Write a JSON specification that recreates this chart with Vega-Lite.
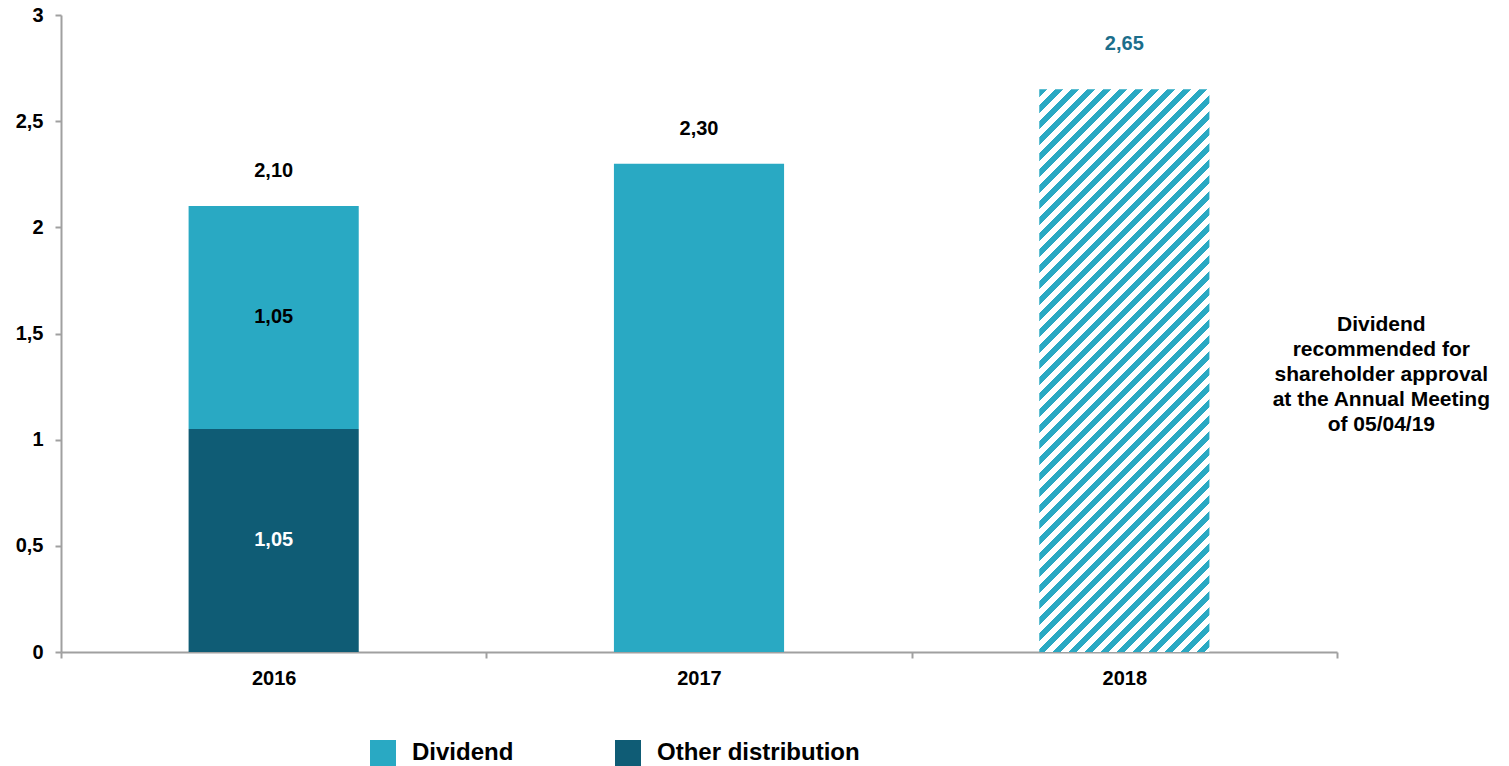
{
  "$schema": "https://vega.github.io/schema/vega-lite/v6.json",
  "width": 1276,
  "height": 637,
  "autosize": {"type": "none"},
  "padding": {"left": 61, "top": 15, "right": 172, "bottom": 114},
  "config": {
    "locale": {"number": {"decimal": ",", "thousands": ".", "grouping": [3], "currency": ["", " €"]}},
    "view": {"stroke": null},
    "font": "Liberation Sans",
    "text": {"font": "Liberation Sans"}
  },
  "data": {
    "values": [
      {"year": "2016", "series": "Other distribution", "status": "paid", "value": 1.05},
      {"year": "2016", "series": "Dividend", "status": "paid", "value": 1.05},
      {"year": "2017", "series": "Dividend", "status": "paid", "value": 2.30},
      {"year": "2018", "series": "Dividend", "status": "recommended", "value": 2.65}
    ]
  },
  "layer": [
    {
      "transform": [{"filter": "datum.status === 'paid'"}],
      "mark": {"type": "bar", "width": {"band": 0.4}},
      "encoding": {
        "x": {
          "field": "year", "type": "ordinal", "title": null,
          "scale": {"domain": ["2016", "2017", "2018"], "paddingInner": 0, "paddingOuter": 0},
          "axis": {"labelAngle": 0, "labelFontSize": 20, "labelFontWeight": "bold", "labelColor": "#000000", "labelFont": "Liberation Sans",
                   "domainColor": "#A0A0A0", "domainWidth": 2, "tickColor": "#A0A0A0", "tickWidth": 2, "tickSize": 6,
                   "tickBand": "extent", "labelPadding": 10, "grid": false}
        },
        "y": {
          "field": "value", "type": "quantitative", "stack": "zero", "title": null,
          "scale": {"domain": [0, 3], "nice": false},
          "axis": {"values": [0, 0.5, 1, 1.5, 2, 2.5, 3], "format": "~g", "labelFontSize": 20, "labelFontWeight": "bold", "labelColor": "#000000", "labelFont": "Liberation Sans",
                   "domainColor": "#A0A0A0", "domainWidth": 2, "tickColor": "#A0A0A0", "tickWidth": 2, "tickSize": 6, "labelPadding": 12, "grid": false}
        },
        "color": {
          "field": "series", "type": "nominal",
          "scale": {"domain": ["Dividend", "Other distribution"], "range": ["#29A9C3", "#0F5C75"]},
          "legend": {"orient": "none", "legendX": 309, "legendY": 725, "direction": "horizontal", "title": null,
                     "symbolType": "square", "symbolSize": 676, "symbolStrokeWidth": 0, "labelFontSize": 24, "labelFontWeight": "bold",
                     "labelColor": "#000000", "labelFont": "Liberation Sans", "labelOffset": 16, "labelLimit": 0, "columnPadding": 0, "gridAlign": "all"}
        },
        "order": {"field": "series", "sort": "descending"}
      }
    },
    {
      "transform": [{"filter": "datum.status === 'recommended'"}],
      "mark": {
        "type": "bar", "width": {"band": 0.4},
        "fill": {
          "gradient": "linear", "x1": 0, "y1": 0, "x2": 0.3934, "y2": 1.3025,
          "stops": [
            {"offset": 0.00, "color": "#29A9C3"}, {"offset": 0.01, "color": "#29A9C3"}, {"offset": 0.01, "color": "#ffffff"}, {"offset": 0.02, "color": "#ffffff"},
            {"offset": 0.02, "color": "#29A9C3"}, {"offset": 0.03, "color": "#29A9C3"}, {"offset": 0.03, "color": "#ffffff"}, {"offset": 0.04, "color": "#ffffff"},
            {"offset": 0.04, "color": "#29A9C3"}, {"offset": 0.05, "color": "#29A9C3"}, {"offset": 0.05, "color": "#ffffff"}, {"offset": 0.06, "color": "#ffffff"},
            {"offset": 0.06, "color": "#29A9C3"}, {"offset": 0.07, "color": "#29A9C3"}, {"offset": 0.07, "color": "#ffffff"}, {"offset": 0.08, "color": "#ffffff"},
            {"offset": 0.08, "color": "#29A9C3"}, {"offset": 0.09, "color": "#29A9C3"}, {"offset": 0.09, "color": "#ffffff"}, {"offset": 0.10, "color": "#ffffff"},
            {"offset": 0.10, "color": "#29A9C3"}, {"offset": 0.11, "color": "#29A9C3"}, {"offset": 0.11, "color": "#ffffff"}, {"offset": 0.12, "color": "#ffffff"},
            {"offset": 0.12, "color": "#29A9C3"}, {"offset": 0.13, "color": "#29A9C3"}, {"offset": 0.13, "color": "#ffffff"}, {"offset": 0.14, "color": "#ffffff"},
            {"offset": 0.14, "color": "#29A9C3"}, {"offset": 0.15, "color": "#29A9C3"}, {"offset": 0.15, "color": "#ffffff"}, {"offset": 0.16, "color": "#ffffff"},
            {"offset": 0.16, "color": "#29A9C3"}, {"offset": 0.17, "color": "#29A9C3"}, {"offset": 0.17, "color": "#ffffff"}, {"offset": 0.18, "color": "#ffffff"},
            {"offset": 0.18, "color": "#29A9C3"}, {"offset": 0.19, "color": "#29A9C3"}, {"offset": 0.19, "color": "#ffffff"}, {"offset": 0.20, "color": "#ffffff"},
            {"offset": 0.20, "color": "#29A9C3"}, {"offset": 0.21, "color": "#29A9C3"}, {"offset": 0.21, "color": "#ffffff"}, {"offset": 0.22, "color": "#ffffff"},
            {"offset": 0.22, "color": "#29A9C3"}, {"offset": 0.23, "color": "#29A9C3"}, {"offset": 0.23, "color": "#ffffff"}, {"offset": 0.24, "color": "#ffffff"},
            {"offset": 0.24, "color": "#29A9C3"}, {"offset": 0.25, "color": "#29A9C3"}, {"offset": 0.25, "color": "#ffffff"}, {"offset": 0.26, "color": "#ffffff"},
            {"offset": 0.26, "color": "#29A9C3"}, {"offset": 0.27, "color": "#29A9C3"}, {"offset": 0.27, "color": "#ffffff"}, {"offset": 0.28, "color": "#ffffff"},
            {"offset": 0.28, "color": "#29A9C3"}, {"offset": 0.29, "color": "#29A9C3"}, {"offset": 0.29, "color": "#ffffff"}, {"offset": 0.30, "color": "#ffffff"},
            {"offset": 0.30, "color": "#29A9C3"}, {"offset": 0.31, "color": "#29A9C3"}, {"offset": 0.31, "color": "#ffffff"}, {"offset": 0.32, "color": "#ffffff"},
            {"offset": 0.32, "color": "#29A9C3"}, {"offset": 0.33, "color": "#29A9C3"}, {"offset": 0.33, "color": "#ffffff"}, {"offset": 0.34, "color": "#ffffff"},
            {"offset": 0.34, "color": "#29A9C3"}, {"offset": 0.35, "color": "#29A9C3"}, {"offset": 0.35, "color": "#ffffff"}, {"offset": 0.36, "color": "#ffffff"},
            {"offset": 0.36, "color": "#29A9C3"}, {"offset": 0.37, "color": "#29A9C3"}, {"offset": 0.37, "color": "#ffffff"}, {"offset": 0.38, "color": "#ffffff"},
            {"offset": 0.38, "color": "#29A9C3"}, {"offset": 0.39, "color": "#29A9C3"}, {"offset": 0.39, "color": "#ffffff"}, {"offset": 0.40, "color": "#ffffff"},
            {"offset": 0.40, "color": "#29A9C3"}, {"offset": 0.41, "color": "#29A9C3"}, {"offset": 0.41, "color": "#ffffff"}, {"offset": 0.42, "color": "#ffffff"},
            {"offset": 0.42, "color": "#29A9C3"}, {"offset": 0.43, "color": "#29A9C3"}, {"offset": 0.43, "color": "#ffffff"}, {"offset": 0.44, "color": "#ffffff"},
            {"offset": 0.44, "color": "#29A9C3"}, {"offset": 0.45, "color": "#29A9C3"}, {"offset": 0.45, "color": "#ffffff"}, {"offset": 0.46, "color": "#ffffff"},
            {"offset": 0.46, "color": "#29A9C3"}, {"offset": 0.47, "color": "#29A9C3"}, {"offset": 0.47, "color": "#ffffff"}, {"offset": 0.48, "color": "#ffffff"},
            {"offset": 0.48, "color": "#29A9C3"}, {"offset": 0.49, "color": "#29A9C3"}, {"offset": 0.49, "color": "#ffffff"}, {"offset": 0.50, "color": "#ffffff"},
            {"offset": 0.50, "color": "#29A9C3"}, {"offset": 0.51, "color": "#29A9C3"}, {"offset": 0.51, "color": "#ffffff"}, {"offset": 0.52, "color": "#ffffff"},
            {"offset": 0.52, "color": "#29A9C3"}, {"offset": 0.53, "color": "#29A9C3"}, {"offset": 0.53, "color": "#ffffff"}, {"offset": 0.54, "color": "#ffffff"},
            {"offset": 0.54, "color": "#29A9C3"}, {"offset": 0.55, "color": "#29A9C3"}, {"offset": 0.55, "color": "#ffffff"}, {"offset": 0.56, "color": "#ffffff"},
            {"offset": 0.56, "color": "#29A9C3"}, {"offset": 0.57, "color": "#29A9C3"}, {"offset": 0.57, "color": "#ffffff"}, {"offset": 0.58, "color": "#ffffff"},
            {"offset": 0.58, "color": "#29A9C3"}, {"offset": 0.59, "color": "#29A9C3"}, {"offset": 0.59, "color": "#ffffff"}, {"offset": 0.60, "color": "#ffffff"},
            {"offset": 0.60, "color": "#29A9C3"}, {"offset": 0.61, "color": "#29A9C3"}, {"offset": 0.61, "color": "#ffffff"}, {"offset": 0.62, "color": "#ffffff"},
            {"offset": 0.62, "color": "#29A9C3"}, {"offset": 0.63, "color": "#29A9C3"}, {"offset": 0.63, "color": "#ffffff"}, {"offset": 0.64, "color": "#ffffff"},
            {"offset": 0.64, "color": "#29A9C3"}, {"offset": 0.65, "color": "#29A9C3"}, {"offset": 0.65, "color": "#ffffff"}, {"offset": 0.66, "color": "#ffffff"},
            {"offset": 0.66, "color": "#29A9C3"}, {"offset": 0.67, "color": "#29A9C3"}, {"offset": 0.67, "color": "#ffffff"}, {"offset": 0.68, "color": "#ffffff"},
            {"offset": 0.68, "color": "#29A9C3"}, {"offset": 0.69, "color": "#29A9C3"}, {"offset": 0.69, "color": "#ffffff"}, {"offset": 0.70, "color": "#ffffff"},
            {"offset": 0.70, "color": "#29A9C3"}, {"offset": 0.71, "color": "#29A9C3"}, {"offset": 0.71, "color": "#ffffff"}, {"offset": 0.72, "color": "#ffffff"},
            {"offset": 0.72, "color": "#29A9C3"}, {"offset": 0.73, "color": "#29A9C3"}, {"offset": 0.73, "color": "#ffffff"}, {"offset": 0.74, "color": "#ffffff"},
            {"offset": 0.74, "color": "#29A9C3"}, {"offset": 0.75, "color": "#29A9C3"}, {"offset": 0.75, "color": "#ffffff"}, {"offset": 0.76, "color": "#ffffff"},
            {"offset": 0.76, "color": "#29A9C3"}, {"offset": 0.77, "color": "#29A9C3"}, {"offset": 0.77, "color": "#ffffff"}, {"offset": 0.78, "color": "#ffffff"},
            {"offset": 0.78, "color": "#29A9C3"}, {"offset": 0.79, "color": "#29A9C3"}, {"offset": 0.79, "color": "#ffffff"}, {"offset": 0.80, "color": "#ffffff"},
            {"offset": 0.80, "color": "#29A9C3"}, {"offset": 0.81, "color": "#29A9C3"}, {"offset": 0.81, "color": "#ffffff"}, {"offset": 0.82, "color": "#ffffff"},
            {"offset": 0.82, "color": "#29A9C3"}, {"offset": 0.83, "color": "#29A9C3"}, {"offset": 0.83, "color": "#ffffff"}, {"offset": 0.84, "color": "#ffffff"},
            {"offset": 0.84, "color": "#29A9C3"}, {"offset": 0.85, "color": "#29A9C3"}, {"offset": 0.85, "color": "#ffffff"}, {"offset": 0.86, "color": "#ffffff"},
            {"offset": 0.86, "color": "#29A9C3"}, {"offset": 0.87, "color": "#29A9C3"}, {"offset": 0.87, "color": "#ffffff"}, {"offset": 0.88, "color": "#ffffff"},
            {"offset": 0.88, "color": "#29A9C3"}, {"offset": 0.89, "color": "#29A9C3"}, {"offset": 0.89, "color": "#ffffff"}, {"offset": 0.90, "color": "#ffffff"},
            {"offset": 0.90, "color": "#29A9C3"}, {"offset": 0.91, "color": "#29A9C3"}, {"offset": 0.91, "color": "#ffffff"}, {"offset": 0.92, "color": "#ffffff"},
            {"offset": 0.92, "color": "#29A9C3"}, {"offset": 0.93, "color": "#29A9C3"}, {"offset": 0.93, "color": "#ffffff"}, {"offset": 0.94, "color": "#ffffff"}
          ]
        }
      },
      "encoding": {
        "x": {"field": "year", "type": "ordinal", "title": null},
        "y": {"field": "value", "type": "quantitative", "title": null}
      }
    },
    {
      "transform": [{"filter": "datum.year === '2016'"}],
      "mark": {"type": "text", "fontSize": 20, "fontWeight": "bold", "baseline": "middle", "align": "center", "dy": 111},
      "encoding": {
        "x": {"field": "year", "type": "ordinal", "title": null},
        "y": {"field": "value", "type": "quantitative", "stack": "zero", "title": null},
        "detail": {"field": "series"},
        "order": {"field": "series", "sort": "descending"},
        "text": {"field": "value", "type": "quantitative", "format": ".2f"},
        "color": {"condition": {"test": "datum.series === 'Other distribution'", "value": "#ffffff"}, "value": "#000000"}
      }
    },
    {
      "transform": [{"filter": "datum.status === 'paid'"}],
      "mark": {"type": "text", "fontSize": 20, "fontWeight": "bold", "baseline": "middle", "align": "center", "dy": -35, "color": "#000000"},
      "encoding": {
        "x": {"field": "year", "type": "ordinal", "title": null},
        "y": {"aggregate": "sum", "field": "value", "type": "quantitative", "title": null},
        "text": {"aggregate": "sum", "field": "value", "type": "quantitative", "format": ".2f"}
      }
    },
    {
      "transform": [{"filter": "datum.status === 'recommended'"}],
      "mark": {"type": "text", "fontSize": 20, "fontWeight": "bold", "baseline": "middle", "align": "center", "dy": -45, "color": "#1B6E8B"},
      "encoding": {
        "x": {"field": "year", "type": "ordinal", "title": null},
        "y": {"field": "value", "type": "quantitative", "title": null},
        "text": {"field": "value", "type": "quantitative", "format": ".2f"}
      }
    },
    {
      "data": {"values": [{"note": ["Dividend", "recommended for", "shareholder approval", "at the Annual Meeting", "of 05/04/19"]}]},
      "mark": {"type": "text", "fontSize": 21, "fontWeight": "bold", "lineHeight": 25, "align": "center", "baseline": "middle", "dx": 257, "color": "#000000"},
      "encoding": {
        "x": {"datum": "2018", "type": "ordinal"},
        "y": {"datum": 1.54, "type": "quantitative"},
        "text": {"field": "note"}
      }
    }
  ]
}
